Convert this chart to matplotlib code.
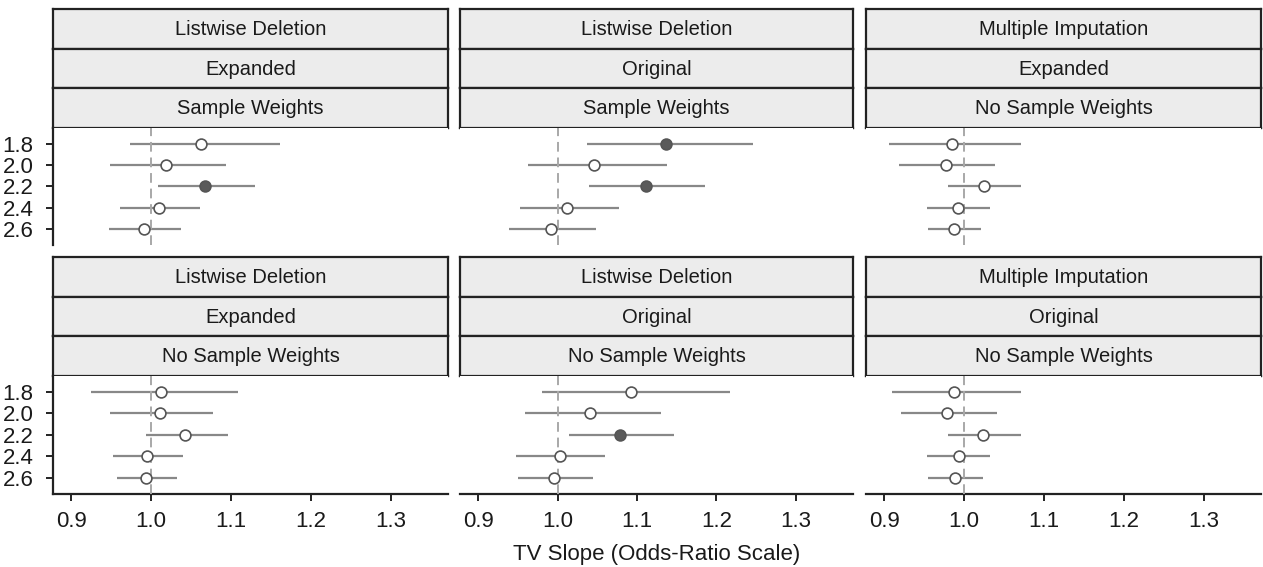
import numpy as np
import matplotlib.pyplot as plt

plt.rcParams['font.family'] = ['Liberation Sans Narrow', 'Liberation Sans', 'DejaVu Sans']

# cutoff values on the y axis
cutoffs = [1.8, 2.0, 2.2, 2.4, 2.6]

# panel labels (three strip rows per panel)
strip_method = ["Listwise Deletion", "Listwise Deletion", "Multiple Imputation",
                "Listwise Deletion", "Listwise Deletion", "Multiple Imputation"]
strip_sample = ["Expanded", "Original", "Expanded",
                "Expanded", "Original", "Original"]
strip_weights = ["Sample Weights", "Sample Weights", "No Sample Weights",
                 "No Sample Weights", "No Sample Weights", "No Sample Weights"]

# odds-ratio estimates and 95% intervals, one list per panel
est = [
    [1.063, 1.019, 1.068, 1.010, 0.991],
    [1.137, 1.046, 1.111, 1.012, 0.992],
    [0.985, 0.977, 1.025, 0.992, 0.987],
    [1.012, 1.011, 1.043, 0.995, 0.994],
    [1.092, 1.041, 1.078, 1.003, 0.996],
    [0.987, 0.978, 1.024, 0.993, 0.989],
]
lo = [
    [0.973, 0.949, 1.008, 0.961, 0.947],
    [1.037, 0.963, 1.040, 0.952, 0.939],
    [0.906, 0.918, 0.980, 0.954, 0.955],
    [0.924, 0.948, 0.993, 0.952, 0.957],
    [0.980, 0.959, 1.014, 0.948, 0.950],
    [0.909, 0.921, 0.980, 0.954, 0.955],
]
hi = [
    [1.162, 1.094, 1.130, 1.061, 1.038],
    [1.246, 1.138, 1.186, 1.077, 1.048],
    [1.071, 1.039, 1.071, 1.032, 1.021],
    [1.109, 1.078, 1.096, 1.040, 1.032],
    [1.217, 1.130, 1.147, 1.060, 1.044],
    [1.071, 1.041, 1.071, 1.032, 1.024],
]
# interval excludes 1 -> filled marker
signif = [
    [False, False, True, False, False],
    [True, False, True, False, False],
    [False, False, False, False, False],
    [False, False, False, False, False],
    [False, False, True, False, False],
    [False, False, False, False, False],
]

W, H = 1263, 567
fig = plt.figure(figsize=(W / 100, H / 100), dpi=100)

def box(x0, y0, x1, y1):
    # pixel box -> figure fraction rect
    return [x0 / W, 1 - y1 / H, (x1 - x0) / W, (y1 - y0) / H]

col_x = [(53, 448), (460, 853), (866, 1261)]
row_y = [(9, 128, 245), (257, 376, 494)]
strip_h = (row_y[0][1] - row_y[0][0]) / 3

for i in range(6):
    r, c = divmod(i, 3)
    x0, x1 = col_x[c]
    top, ptop, pbot = row_y[r]

    # strips
    labels = [strip_method[i], strip_sample[i], strip_weights[i]]
    for k, lab in enumerate(labels):
        sax = fig.add_axes(box(x0, top + k * strip_h, x1, top + (k + 1) * strip_h))
        sax.set_facecolor("#ececec")
        sax.set_xticks([])
        sax.set_yticks([])
        for sp in sax.spines.values():
            sp.set_linewidth(1.6)
            sp.set_color("#222222")
        sax.text(0.5, 0.48, lab, ha="center", va="center", fontsize=14.5,
                 color="#1a1a1a", transform=sax.transAxes)

    ax = fig.add_axes(box(x0, ptop, x1, pbot))
    ax.set_xlim(0.877, 1.372)
    ax.set_ylim(2.752, 1.652)
    ax.axvline(1.0, color="#a8a8a8", lw=1.4, ls=(0, (5, 3)), zorder=3)

    ax.hlines(cutoffs, lo[i], hi[i], color="#888888", lw=1.6, zorder=2)
    for y, e, s in zip(cutoffs, est[i], signif[i]):
        ax.plot(e, y, "o", ms=7.8, mew=1.2,
                mfc="#5a5a5a" if s else "white", mec="#555555", zorder=4)

    for sp in ["top", "right"]:
        ax.spines[sp].set_visible(False)
    ax.spines["left"].set_visible(c == 0)
    ax.spines["bottom"].set_visible(r == 1)
    for sp in ["left", "bottom"]:
        ax.spines[sp].set_linewidth(1.6)
        ax.spines[sp].set_color("#222222")

    ax.set_yticks(cutoffs)
    if c == 0:
        ax.set_yticklabels([f"{v:.1f}" for v in cutoffs], fontsize=16,
                           color="#1a1a1a")
        ax.tick_params(axis="y", length=5, width=1.4, color="#222222", pad=9)
    else:
        ax.tick_params(axis="y", left=False, labelleft=False)

    ax.set_xticks([0.9, 1.0, 1.1, 1.2, 1.3])
    if r == 1:
        ax.set_xticklabels(["0.9", "1.0", "1.1", "1.2", "1.3"], fontsize=16,
                           color="#1a1a1a")
        ax.tick_params(axis="x", length=5, width=1.4, color="#222222", pad=7)
        if c == 1:
            ax.set_xlabel("TV Slope (Odds-Ratio Scale)", fontsize=16,
                          color="#1a1a1a", labelpad=9)
    else:
        ax.tick_params(axis="x", bottom=False, labelbottom=False)

fig.savefig("out.png", dpi=100)
